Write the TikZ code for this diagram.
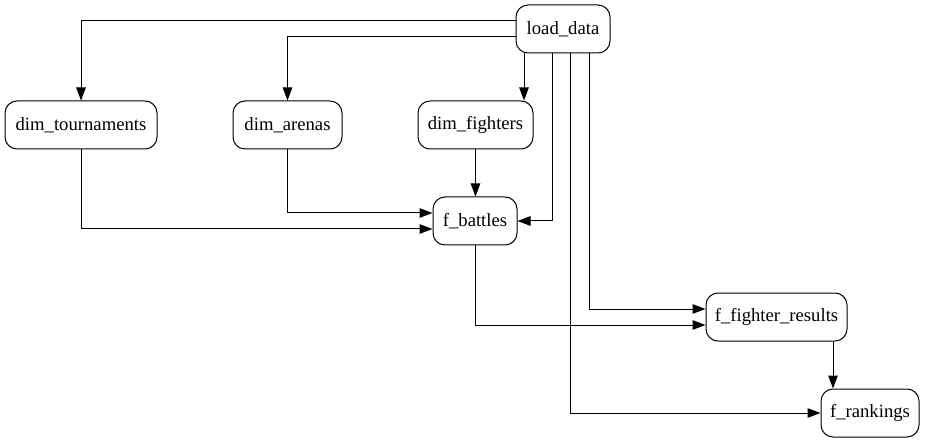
\documentclass[tikz,border=0pt]{standalone}
\usepackage{fontspec}
\setmainfont{Liberation Serif}
\newfontfamily\timesfont{Liberation Serif}
\usetikzlibrary{arrows.meta}
\tikzset{
  box/.style={draw, line width=1pt, rounded corners=12pt, minimum height=48pt, inner sep=0pt, font=\timesfont\fontsize{18.67}{22}\selectfont},
  arr/.style={draw, line width=1pt, -{Triangle[length=13pt, width=9.5pt]}}
}
\begin{document}
\begin{tikzpicture}[x=1pt,y=-1pt]
\useasboundingbox (0,0) rectangle (925,443);
\node[box, minimum width=94pt]  (load)   at (563,29)  {load\_data};
\node[box, minimum width=152pt] (tour)   at (81,125)  {dim\_tournaments};
\node[box, minimum width=109pt] (arenas) at (287.5,125) {dim\_arenas};
\node[box, minimum width=115pt] (fight)  at (475.5,125) {dim\_fighters};
\node[box, minimum width=84pt]  (battles) at (475,221) {f\_battles};
\node[box, minimum width=141pt] (fres)   at (776.5,317) {f\_fighter\_results};
\node[box, minimum width=98pt]  (rank)   at (870,413) {f\_rankings};

\draw[arr] ([yshift=8pt]load.west) -| (tour.north);
\draw[arr] ([yshift=-8pt]load.west) -| (arenas.north);
\draw[arr] ([xshift=-39pt]load.south) -- ([xshift=-39pt]load.south |- fight.north);
\draw[arr] ([xshift=-11pt]load.south) |- (battles.east);
\draw[arr] ([xshift=7pt]load.south) |- (rank.west);
\draw[arr] ([xshift=26pt]load.south) |- ([yshift=8pt]fres.west);
\draw[arr] (tour.south) |- ([yshift=-8pt]battles.west);
\draw[arr] (arenas.south) |- ([yshift=8pt]battles.west);
\draw[arr] (fight.south) -- (fight.south |- battles.north);
\draw[arr] (battles.south) |- ([yshift=-8pt]fres.west);
\draw[arr] ([xshift=56.5pt]fres.south) -- ([xshift=56.5pt]fres.south |- rank.north);
\end{tikzpicture}
\end{document}
